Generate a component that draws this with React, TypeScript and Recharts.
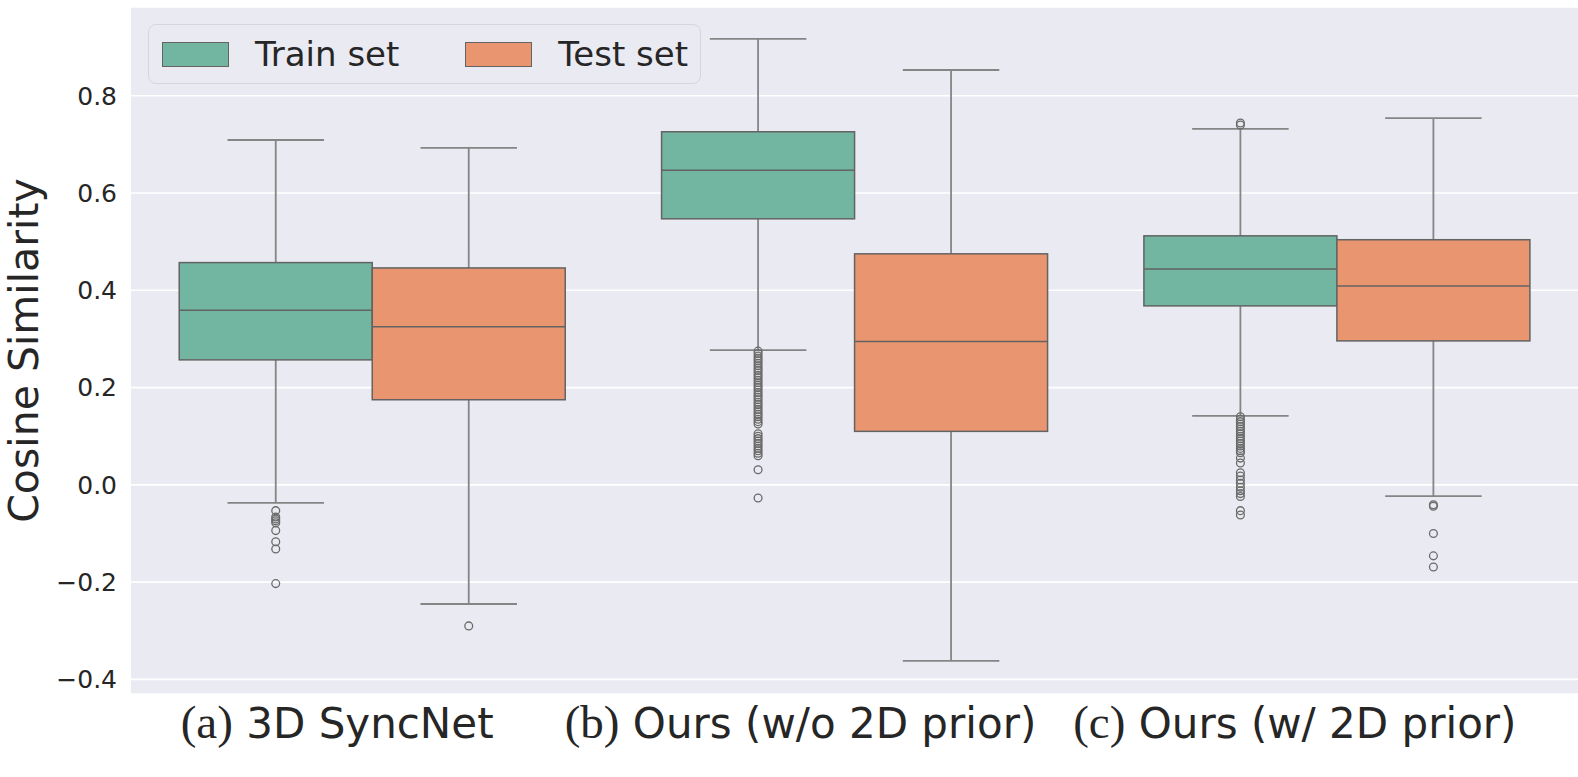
import React from 'react';
import { ComposedChart, Bar, XAxis, YAxis, CartesianGrid, Legend } from 'recharts';

// group labels along the x axis
const categories = ['(a) 3D SyncNet', '(b) Ours (w/o 2D prior)', '(c) Ours (w/ 2D prior)'];
const seriesNames = ['Train set', 'Test set'];
const yTicks = [-0.4, -0.2, 0, 0.2, 0.4, 0.6, 0.8];

// box stats
const trainLow = [-0.037, 0.277, 0.142];
const trainQ1 = [0.257, 0.547, 0.368];
const trainMedian = [0.359, 0.647, 0.444];
const trainQ3 = [0.457, 0.726, 0.512];
const trainHigh = [0.709, 0.917, 0.732];
const trainOutliers = [
    [-0.053, -0.066, -0.07, -0.074, -0.078, -0.094, -0.117, -0.132, -0.203],
    [
        0.275, 0.27, 0.265, 0.26, 0.255, 0.25, 0.245, 0.24, 0.235, 0.23, 0.225, 0.22, 0.215, 0.21, 0.205,
        0.2, 0.195, 0.19, 0.185, 0.18, 0.175, 0.17, 0.165, 0.16, 0.155, 0.15, 0.145, 0.14, 0.135, 0.13, 0.125,
        0.105, 0.1, 0.095, 0.09, 0.085, 0.08, 0.075, 0.07, 0.065, 0.06, 0.031, -0.027,
    ],
    [
        0.744, 0.74,
        0.14, 0.135, 0.13, 0.125, 0.12, 0.115, 0.11, 0.105, 0.1, 0.095, 0.09, 0.085, 0.08, 0.075, 0.07, 0.066,
        0.055, 0.045, 0.025, 0.018, 0.01, 0.003, -0.005, -0.012, -0.018, -0.024, -0.053, -0.062,
    ],
];

const testLow = [-0.245, -0.362, -0.023];
const testQ1 = [0.175, 0.11, 0.296];
const testMedian = [0.325, 0.295, 0.409];
const testQ3 = [0.446, 0.475, 0.504];
const testHigh = [0.693, 0.853, 0.754];
const testOutliers = [[-0.29], [], [-0.041, -0.044, -0.1, -0.146, -0.169]];

const TRAIN_COLOR = '#72b5a0';
const TEST_COLOR = '#e9956f';
const EDGE = '#636363';
const WHISKER = '#858585';
// horizontal nudge of each x label, as in the figure
const LABEL_SHIFT = [-35, -54, -42];

const tableData = categories.map((name, i) => ({
    name,
    trainBox: [trainQ1[i], trainQ3[i]],
    trainLow: trainLow[i],
    trainMed: trainMedian[i],
    trainHigh: trainHigh[i],
    trainOut: trainOutliers[i],
    testBox: [testQ1[i], testQ3[i]],
    testLow: testLow[i],
    testMed: testMedian[i],
    testHigh: testHigh[i],
    testOut: testOutliers[i],
}));

// draws one box: the bar gives the Q1..Q3 rect, everything else is mapped with the same scale
const makeBoxShape = (prefix: string) => (props: any) => {
    const { x, y, width, height, payload, fill } = props;
    const [q1, q3] = payload[`${prefix}Box`];
    const top = Math.min(y, y + height);
    const bot = Math.max(y, y + height);
    const k = (bot - top) / (q3 - q1);
    const py = (v: number) => top + (q3 - v) * k;
    const cx = x + width / 2;
    const capHalf = width / 4;
    const lowY = py(payload[`${prefix}Low`]);
    const highY = py(payload[`${prefix}High`]);
    const medY = py(payload[`${prefix}Med`]);
    return (
        <g>
            <line x1={cx} x2={cx} y1={highY} y2={top} stroke={WHISKER} strokeWidth={1.8} />
            <line x1={cx} x2={cx} y1={bot} y2={lowY} stroke={WHISKER} strokeWidth={1.8} />
            <line x1={cx - capHalf} x2={cx + capHalf} y1={highY} y2={highY} stroke={WHISKER} strokeWidth={1.8} />
            <line x1={cx - capHalf} x2={cx + capHalf} y1={lowY} y2={lowY} stroke={WHISKER} strokeWidth={1.8} />
            <rect x={x} y={top} width={width} height={bot - top} fill={fill} stroke={EDGE} strokeWidth={1.5} />
            <line x1={x} x2={x + width} y1={medY} y2={medY} stroke={EDGE} strokeWidth={1.5} />
            {payload[`${prefix}Out`].map((v: number, j: number) => (
                <circle key={j} cx={cx} cy={py(v)} r={3.9} fill="none" stroke="#6a6a6a" strokeWidth={1.3} />
            ))}
        </g>
    );
};

const XTick = ({ x, y, payload, index }: any) => {
    const [pre, ...rest] = String(payload.value).split(' ');
    return (
        <text x={x + LABEL_SHIFT[index]} y={y + 42} textAnchor="middle" fill="#262626" fontSize={42} fontFamily="DejaVu Sans">
            <tspan fontFamily="Liberation Serif" fontSize={47}>{pre}</tspan>
            <tspan> {rest.join(' ')}</tspan>
        </text>
    );
};

const LegendBox = () => {
    const colors = [TRAIN_COLOR, TEST_COLOR];
    return (
        <div
            style={{
                width: 553,
                height: 60,
                boxSizing: 'border-box',
                border: '1px solid #d6d6de',
                borderRadius: 8,
                background: 'rgba(234,234,242,0.85)',
                display: 'flex',
                alignItems: 'center',
                fontFamily: 'DejaVu Sans',
                fontSize: 34,
                color: '#262626',
            }}
        >
            {seriesNames.map((n, i) => (
                <div key={n} style={{ display: 'flex', alignItems: 'center', marginLeft: i === 0 ? 13 : 66 }}>
                    <div style={{ width: 67, height: 25, background: colors[i], border: `1.5px solid ${EDGE}`, boxSizing: 'border-box' }} />
                    <span style={{ marginLeft: 26 }}>{n}</span>
                </div>
            ))}
        </div>
    );
};

export default function App() {
    return (
        <div style={{ position: 'absolute', left: 0, top: 0, background: '#fff' }}>
            <ComposedChart
                width={1578}
                height={777}
                data={tableData}
                margin={{ top: 7, right: 0, bottom: 0, left: 0 }}
                barCategoryGap="10%"
                barGap={0}
                style={{ fontFamily: 'DejaVu Sans' }}
            >
                <CartesianGrid vertical={false} stroke="#ffffff" strokeWidth={1.6} fill="#eaeaf2" />
                <XAxis
                    dataKey="name"
                    height={83}
                    axisLine={false}
                    tickLine={false}
                    tickSize={0}
                    interval={0}
                    tick={<XTick />}
                />
                <YAxis
                    width={131}
                    domain={[-0.43, 0.9825]}
                    allowDataOverflow
                    ticks={yTicks}
                    axisLine={false}
                    tickLine={false}
                    tickSize={0}
                    tickMargin={14}
                    tick={{ fill: '#262626', fontSize: 25 }}
                    tickFormatter={(v: number) => v.toFixed(1).replace('-', '\u2212')}
                    label={{
                        content: ({ viewBox }: any) => {
                            const cy = viewBox.y + viewBox.height / 2;
                            return (
                                <text
                                    x={38}
                                    y={cy}
                                    transform={`rotate(-90 38 ${cy})`}
                                    textAnchor="middle"
                                    fill="#262626"
                                    fontSize={41}
                                    fontFamily="DejaVu Sans"
                                >
                                    Cosine Similarity
                                </text>
                            );
                        },
                    }}
                />
                <Legend
                    layout="horizontal"
                    verticalAlign="middle"
                    align="center"
                    content={<LegendBox />}
                    wrapperStyle={{ left: 148, top: 24, width: 553, height: 60 }}
                />
                <Bar dataKey="trainBox" name={seriesNames[0]} fill={TRAIN_COLOR} shape={makeBoxShape('train')} isAnimationActive={false} />
                <Bar dataKey="testBox" name={seriesNames[1]} fill={TEST_COLOR} shape={makeBoxShape('test')} isAnimationActive={false} />
            </ComposedChart>
        </div>
    );
}
